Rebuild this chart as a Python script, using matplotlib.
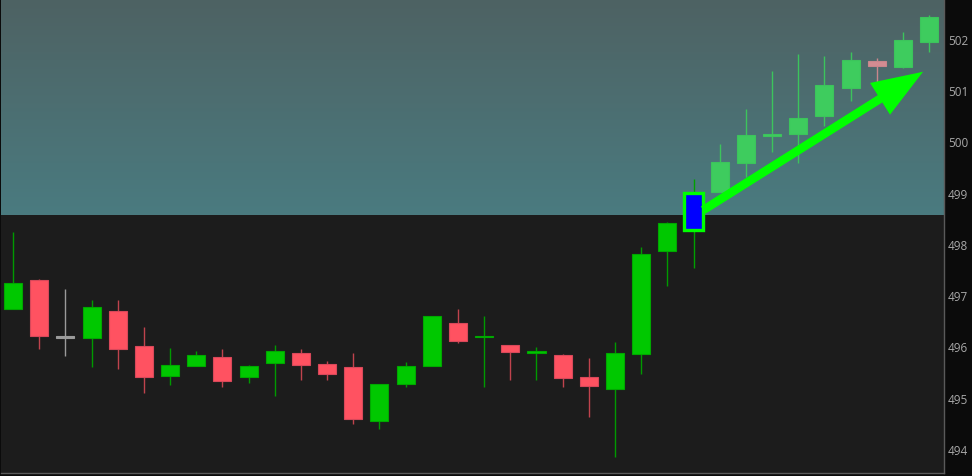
import numpy as np
import matplotlib
matplotlib.use("Agg")
import matplotlib.pyplot as plt
from matplotlib.colors import LinearSegmentedColormap

# ---- data ----
opens  = [496.76, 497.32, 496.20, 496.19, 496.72, 496.02, 495.44, 495.64, 495.81, 495.42,
          495.70, 495.89, 495.67, 495.61, 494.57, 495.29, 495.64, 496.48, 496.21, 496.05,
          495.89, 495.85, 495.43, 495.18, 495.88, 497.88, 498.29, 499.04, 499.60, 500.14,
          500.17, 500.52, 501.07, 501.58, 501.47, 501.97]
highs  = [498.26, 497.33, 497.15, 496.92, 496.92, 496.39, 495.99, 495.93, 495.97, 495.65,
          496.04, 495.97, 495.74, 495.89, 495.29, 495.71, 496.62, 496.76, 496.61, 496.05,
          496.01, 495.87, 495.79, 496.11, 497.96, 498.45, 499.29, 499.97, 500.65, 501.39,
          501.73, 501.69, 501.77, 501.64, 502.15, 502.48]
lows   = [496.76, 495.96, 495.83, 495.62, 495.57, 495.11, 495.27, 495.63, 495.22, 495.31,
          495.05, 495.37, 495.37, 494.51, 494.40, 495.23, 495.64, 496.09, 495.23, 495.37,
          495.37, 495.22, 494.65, 493.87, 495.48, 497.19, 497.55, 499.04, 499.32, 499.81,
          499.60, 500.32, 500.81, 501.02, 501.46, 501.76]
closes = [497.26, 496.22, 496.20, 496.78, 495.96, 495.42, 495.65, 495.85, 495.35, 495.63,
          495.93, 495.66, 495.48, 494.61, 495.29, 495.63, 496.62, 496.12, 496.22, 495.92,
          495.92, 495.41, 495.24, 495.89, 497.82, 498.43, 499.01, 499.61, 500.14, 500.15,
          500.48, 501.12, 501.61, 501.49, 501.99, 502.44]
highlight_index = 26
shade_level = 498.59
arrow_tail = (26.37, 498.68)
arrow_tip = (34.77, 501.38)
yticks = [494, 495, 496, 497, 498, 499, 500, 501, 502]

# ---- figure ----
W, H = 972, 476
fig = plt.figure(figsize=(W / 100, H / 100), dpi=100, facecolor="#0b0b0b")
ax = fig.add_axes([1 / W, 3 / H, 943 / W, 473 / H])
ax.set_facecolor("#1c1c1c")

xmin, xmax = -0.46, 35.57
ymin, ymax = 493.55, 502.78
ax.set_xlim(xmin, xmax)
ax.set_ylim(ymin, ymax)

# gradient shade
cmap = LinearSegmentedColormap.from_list("shade", ["#4a7b80", "#4e6263"])
grad = np.linspace(0, 1, 256).reshape(-1, 1)
ax.imshow(grad, cmap=cmap, origin="lower", aspect="auto",
          extent=[xmin, xmax, shade_level, ymax], zorder=0.5)

bw = 0.69
for i, (o, h, l, c) in enumerate(zip(opens, highs, lows, closes)):
    future = i > highlight_index
    if i == highlight_index:
        wick_c, face, edge, lw = "#00a000", "#0000ff", "#00ff00", 2.4
    elif c > o:
        if future:
            wick_c, face, edge, lw = "#3cc45c", "#3ecc5e", "#3cc45c", 0.8
        else:
            wick_c, face, edge, lw = "#009a00", "#00c800", "#00a800", 0.8
    elif c < o:
        if future:
            wick_c, face, edge, lw = "#c9868c", "#d48c92", "#c9868c", 0.8
        else:
            wick_c, face, edge, lw = "#c0434d", "#ff5261", "#d8485a", 0.8
    else:
        wick_c, face, edge, lw = "#9a9a9a", "#9a9a9a", "#9a9a9a", 0.8
    ax.vlines(i, l, h, color=wick_c, linewidth=1.0, zorder=2)
    bot = min(o, c)
    ht = max(abs(c - o), 0.035)
    if abs(c - o) < 0.035:
        bot = (o + c) / 2 - 0.0175
    ax.bar(i, ht, bottom=bot, width=bw, color=face, edgecolor=edge,
           linewidth=lw, zorder=3)

# arrow
ax.annotate("", xy=arrow_tip, xytext=arrow_tail,
            arrowprops=dict(arrowstyle="simple,head_length=3.66,head_width=2.7,tail_width=0.62",
                            color="#00ff00", lw=0, shrinkA=0, shrinkB=0, mutation_scale=10),
            zorder=5)

ax.yaxis.tick_right()
ax.set_yticks(yticks)
ax.set_yticklabels([str(t) for t in yticks], fontsize=8.5, color="#a8a8a8",
                   fontfamily="Open Sans")
ax.tick_params(axis="y", length=0, pad=3)
ax.set_xticks([])
for s in ["top", "left"]:
    ax.spines[s].set_visible(False)
for s in ["right", "bottom"]:
    ax.spines[s].set_color("#5a5a5a")
    ax.spines[s].set_linewidth(1)

fig.savefig("out.png", dpi=100, facecolor=fig.get_facecolor())
